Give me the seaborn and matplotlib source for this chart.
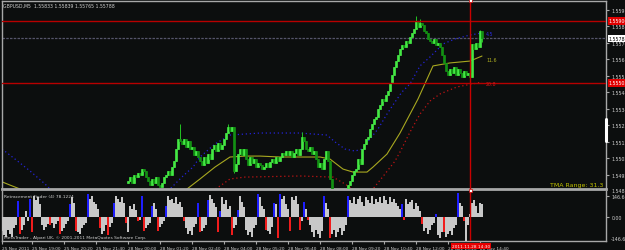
import numpy as np
import pandas as pd
import matplotlib
matplotlib.use("Agg")
import matplotlib.pyplot as plt
from matplotlib.patches import Rectangle
from matplotlib.transforms import blended_transform_factory
import seaborn as sns

# ------------------------------------------------------------------ data
header_text = "GBPUSD,M5  1.55833 1.55839 1.55765 1.55788"
first_candle_index = 63
first_open = 1.54866
closes = [
    1.54879, 1.54904, 1.54866, 1.54917, 1.54904, 1.54930, 1.54917, 1.54955, 1.54943, 1.54904,
    1.54879, 1.54853, 1.54892, 1.54866, 1.54904, 1.54853, 1.54840, 1.54866, 1.54904, 1.54917,
    1.54943, 1.54917, 1.54968, 1.55006, 1.55083, 1.55147, 1.55134, 1.55115, 1.55147, 1.55096,
    1.55134, 1.55083, 1.55096, 1.55045, 1.55070, 1.55032, 1.55006, 1.54981, 1.55032, 1.54994,
    1.55051, 1.55019, 1.55083, 1.55108, 1.55070, 1.55121, 1.55083, 1.55108, 1.55147, 1.55185,
    1.55223, 1.55198, 1.55223, 1.54943, 1.54987, 1.55051, 1.55083, 1.55045, 1.55083, 1.55019,
    1.54981, 1.55032, 1.54994, 1.55019, 1.54968, 1.54994, 1.54981, 1.54955, 1.54968, 1.54994,
    1.54968, 1.55000, 1.55019, 1.54994, 1.55032, 1.55006, 1.55032, 1.55057, 1.55045, 1.55070,
    1.55045, 1.55070, 1.55032, 1.55057, 1.55083, 1.55045, 1.55083, 1.55160, 1.55134, 1.55083,
    1.55070, 1.55096, 1.55051, 1.55070, 1.55019, 1.54968, 1.54994, 1.54955, 1.55019, 1.55070,
    1.55006, 1.54892, 1.54828, 1.54790, 1.54764, 1.54777, 1.54751, 1.54777, 1.54790, 1.54815,
    1.54853, 1.54879, 1.54917, 1.54943, 1.54955, 1.55019, 1.54987, 1.55083, 1.55115, 1.55147,
    1.55160, 1.55211, 1.55243, 1.55274, 1.55287, 1.55338, 1.55364, 1.55402, 1.55389, 1.55428,
    1.55453, 1.55504, 1.55555, 1.55606, 1.55644, 1.55683, 1.55721, 1.55747, 1.55734, 1.55772,
    1.55759, 1.55798, 1.55823, 1.55849, 1.55900, 1.55861, 1.55887, 1.55874, 1.55836, 1.55823,
    1.55785, 1.55772, 1.55759, 1.55785, 1.55747, 1.55759, 1.55734, 1.55683, 1.55632, 1.55581,
    1.55555, 1.55593, 1.55568, 1.55606, 1.55555, 1.55593, 1.55568, 1.55542, 1.55581, 1.55555,
    1.55568, 1.55542, 1.55753, 1.55721, 1.55759, 1.55734, 1.55833, 1.55788,
]
wick_highs = {89: 1.55243, 113: 1.55243, 150: 1.55191, 207: 1.55932, 209: 1.55913, 239: 1.55839}
wick_lows = {116: 1.54930, 240: 1.55765}

# TMA centre line (two visible stretches) and bands
tma_left_bar = [-1, 4, 9, 14]
tma_left_price = [1.54879, 1.54853, 1.54828, 1.54790]
tma_bar = [92.5, 99, 106.5, 114, 121.5, 129, 139, 149, 159, 164, 170.5, 175.5, 182.5,
           185.5, 192.5, 199, 208, 215.5, 224, 234, 240]
tma_price = [1.54828, 1.54892, 1.54968, 1.55032, 1.55038, 1.55038, 1.55032, 1.55032, 1.55032,
             1.55019, 1.54955, 1.54936, 1.54936, 1.54968, 1.55051, 1.55185, 1.55402, 1.55613,
             1.55632, 1.55644, 1.55676]
upper_left_bar = [0, 6.5, 14, 21.5, 25]
upper_left_price = [1.55083, 1.55019, 1.54943, 1.54860, 1.54815]
upper_bar = [83, 85.5, 90.5, 95.5, 99, 106.5, 114, 129, 149, 162.5, 166.5, 171.5, 176.5, 180,
             184, 188, 192.5, 196.5, 200, 204, 209, 214, 220.5, 226.5, 234, 240]
upper_price = [1.54815, 1.54847, 1.54911, 1.54968, 1.55032, 1.55115, 1.55172, 1.55185, 1.55185,
               1.55172, 1.55128, 1.55083, 1.55070, 1.55083, 1.55147, 1.55211, 1.55306, 1.55383,
               1.55447, 1.55498, 1.55613, 1.55670, 1.55753, 1.55785, 1.55810, 1.55823]
lower_bar = [105, 109, 114, 121.5, 149, 165.5, 171.5, 176.5, 181.5, 185.5, 191.5, 196.5, 199,
             204, 209, 214, 219, 227.5, 240]
lower_price = [1.54815, 1.54847, 1.54892, 1.54904, 1.54911, 1.54904, 1.54860, 1.54815, 1.54796,
               1.54828, 1.54924, 1.55006, 1.55064, 1.55191, 1.55306, 1.55389, 1.55434, 1.55479,
               1.55510]
band_labels = [("4.5", 1.55817, "#2a2ae0"), ("11.6", 1.55657, "#b0b020"), ("20.8", 1.55504, "#d01818")]
tma_range_text = "TMA Range: 31.3"

# Retracement Finder histogram (one value per bar)
hist_values = [
    -100, -130, -145, -90, -120, -140, -80, -60, 115, -120,
    -90, -60, 40, -30, 130, -110, 150, 120, 140, 90,
    -60, -90, -70, -50, -60, -40, -80, -50, -30, -120,
    -100, -80, -50, -30, 90, 140, 100, -100, -110, -120,
    -80, -60, -40, 165, 130, 150, 110, 90, 60, -80,
    -120, -100, -60, -130, -70, -40, 100, 150, 130, 110,
    140, 100, -40, -110, 80, 60, 90, 50, -30, -20,
    150, -100, -80, -60, -40, 80, 100, 60, -100, -70,
    -50, -30, 80, 150, 120, 130, 100, 140, 90, 110,
    70, -30, -80, -120, -100, -130, -70, -50, 100, -110,
    -100, -80, -60, 120, 160, 130, 100, 70, -110, 40,
    140, 90, 120, 60, 80, -130, -80, -60, 50, 150,
    110, 70, -90, -130, -110, -140, -80, -60, 165, 140,
    80, 60, -90, -100, -120, -70, 100, 90, -150, 165,
    130, 150, 90, 60, -100, 140, 120, 150, 90, -90,
    -30, 110, 60, -20, -60, -110, -140, -90, -120, -150,
    -100, 150, 100, 60, -150, -120, -90, -140, -110, -80,
    -130, -100, -60, 150, 120, 100, 140, 90, 130, 150,
    110, 80, 140, 120, 100, 150, 90, 130, 110, 140,
    100, 150, 120, 90, 140, 110, 130, 100, 80, 60,
    90, -20, 130, 90, 110, 120, 60, 100, 80, 40,
    -50, -100, -80, -120, -90, -60, -40, 20, -130, -150,
    -110, -110, -140, -120, -100, -130, -80, -60, 170, 100,
    80, -30, -170, -60, 20, 100, 120, 80, 30, 100,
    90,
]
hist_colors = ("ggggggggbr" "ggggbrgggg" "ggggrggggr" "ggggbggrgg" "gggbgggggr"
               "gggrggbggg" "ggrgggggrg" "brgggbggrg" "ggbggggggg" "grggggggbr"
               "gggbggggrb" "gggggrggbg" "ggggggggbg" "ggrgggbgrb" "ggggrggggr"
               "gbgrgggggg" "gbggrggggg" "gggbgggggg" "gggggggggg" "gggggggggg"
               "brgggggggg" "rggggggbgg" "grggggggbg" "grgggggggg" "g")
hist_title = "Retracement Finder (4) 78.1224"
hist_ticks = [146.666, 0.0]
hist_tick_labels = ["146.666", "0.00"]
hist_bottom_label = "-146.666"
copyright_text = "MetaTrader - Alpari UK, \u00a9 2001-2011 MetaQuotes Software Corp."

price_ticks = [1.55970, 1.55865, 1.55760, 1.55655, 1.55550, 1.55445, 1.55340,
               1.55235, 1.55130, 1.55025, 1.54920]
price_bottom_label = "1.54820"
level_lines = [1.55900, 1.55505]
current_price = 1.55788
time_labels = ["25 Nov 2011", "25 Nov 19:00", "25 Nov 20:20", "25 Nov 21:40", "28 Nov 00:00",
               "28 Nov 01:20", "28 Nov 02:40", "28 Nov 04:00", "28 Nov 05:20", "28 Nov 06:40",
               "28 Nov 08:00", "28 Nov 09:20", "28 Nov 10:40", "28 Nov 12:00", "28 Nov 13:20",
               "28 Nov 14:40"]
bars_per_label = 16
cursor_bar = 234
cursor_label = "2011.11.28 14:30"

# ------------------------------------------------------------------ style
BG = "#0c0e0e"
FRAME = "#a8a8a8"
TXT = "#cfcfcf"
FS = 3.4
FS_T = 3.05
sns.set_theme(style="dark", rc={"axes.facecolor": BG, "figure.facecolor": BG,
                                "axes.grid": False, "axes.edgecolor": FRAME})
plt.rcParams["font.family"] = ["DejaVu Sans"]

W, H = 625, 251
fig = plt.figure(figsize=(W / 100, H / 100), dpi=100)
fig.patch.set_facecolor(BG)

def fxy(px, py):
    return px / W, 1 - py / H

ax = fig.add_axes([2 / W, 1 - 190 / H, 604 / W, 188 / H])
axs = fig.add_axes([2 / W, 1 - 242 / H, 604 / W, 50 / H])
for a in (ax, axs):
    a.set_facecolor(BG)

# ------------------------------------------------------------------ candles
n = len(closes)
bars = np.arange(first_candle_index, first_candle_index + n)
opens = [first_open] + closes[:-1]
highs = [max(o, c) for o, c in zip(opens, closes)]
lows = [min(o, c) for o, c in zip(opens, closes)]
for k, b in enumerate(bars):
    if b in wick_highs:
        highs[k] = max(highs[k], wick_highs[b])
    if b in wick_lows:
        lows[k] = min(lows[k], wick_lows[b])
candles = pd.DataFrame({"bar": bars, "open": opens, "close": closes, "high": highs, "low": lows})
bull = candles["close"] >= candles["open"]
ccol = np.where(bull, "#44e844", "#139013")
ax.vlines(candles["bar"], candles["low"], candles["high"], color="#22c422", lw=0.7, zorder=3)
ax.bar(candles["bar"], (candles["close"] - candles["open"]).abs(),
       bottom=candles[["open", "close"]].min(axis=1), width=0.8, color=ccol,
       edgecolor=ccol, linewidth=0.5, zorder=4)

# ------------------------------------------------------------------ TMA + bands
dot = (0, (1, 2.2))
sns.lineplot(x=tma_left_bar, y=tma_left_price, ax=ax, color="#a8a820", lw=0.8,
             sort=False, estimator=None, zorder=2)
sns.lineplot(x=tma_bar, y=tma_price, ax=ax, color="#a8a820", lw=0.8,
             sort=False, estimator=None, zorder=2)
sns.lineplot(x=upper_left_bar, y=upper_left_price, ax=ax, color="#2424d8", lw=0.9,
             linestyle=dot, sort=False, estimator=None, zorder=2)
sns.lineplot(x=upper_bar, y=upper_price, ax=ax, color="#2424d8", lw=0.9,
             linestyle=dot, sort=False, estimator=None, zorder=2)
sns.lineplot(x=lower_bar, y=lower_price, ax=ax, color="#c01414", lw=0.9,
             linestyle=dot, sort=False, estimator=None, zorder=2)
for txt, p, col in band_labels:
    ax.text(242, p, txt, color=col, fontsize=FS, va="center", ha="left", zorder=6)

# level lines, current price, cursor
for lv in level_lines:
    ax.axhline(lv, color="#b80000", lw=1.0, zorder=5)
ax.axhline(current_price, color="#55556a", lw=0.9, ls=(0, (2, 1)), zorder=1)
ax.axvline(cursor_bar, color="#c80000", lw=1.0, zorder=7)
axs.axvline(cursor_bar, color="#c80000", lw=1.0, zorder=7)

ax.set_xlim(0, 302)
ax.set_ylim(1.54828, 1.56027)
ax.yaxis.tick_right()
ax.set_yticks(price_ticks)
ax.set_yticklabels([f"{t:.5f}" for t in price_ticks])
ax.tick_params(axis="y", colors=FRAME, labelcolor=TXT, labelsize=FS, length=2.5,
               width=0.8, pad=1.5, right=True, left=False)
ax.set_xticks([])
ax.set_xlabel("")
ax.set_ylabel("")

trans = blended_transform_factory(ax.transAxes, ax.transData)
for lv in level_lines:
    ax.text(1.0045, lv, f"{lv:.5f}", transform=trans, ha="left", va="center",
            fontsize=FS, color="white", clip_on=False, zorder=10,
            bbox=dict(boxstyle="square,pad=0.25", fc="#e00000", ec="none"))
ax.text(1.0045, current_price, f"{current_price:.5f}", transform=trans, ha="left",
        va="center", fontsize=FS, color="black", clip_on=False, zorder=10,
        bbox=dict(boxstyle="square,pad=0.25", fc="white", ec="none"))
ax.plot([1.0, 1.0], [(190 - 142) / 188, (190 - 120) / 188], transform=ax.transAxes,
        color="white", lw=2.2, clip_on=False, zorder=9)
ax.text(0.995, 0.025, tma_range_text, transform=ax.transAxes, ha="right", va="center",
        fontsize=4.5, color="#c4c400", zorder=8)
ax.text(0.002, 0.988, header_text, transform=ax.transAxes, ha="left", va="top",
        fontsize=3.3, color=TXT, zorder=8)

for side, sp in ax.spines.items():
    sp.set_color(FRAME)
    sp.set_linewidth(1.0)
ax.spines["bottom"].set_linewidth(2.0)

# ------------------------------------------------------------------ histogram
hist = pd.DataFrame({"bar": np.arange(len(hist_values)), "value": hist_values,
                     "kind": list(hist_colors[:len(hist_values)])})
sns.barplot(data=hist, x="bar", y="value", hue="kind", native_scale=True, dodge=False,
            palette={"g": "#c8c8c8", "b": "#1e1eff", "r": "#f01c1c"}, saturation=1,
            width=0.6, errorbar=None, legend=False, ax=axs, linewidth=0, zorder=3)
axs.set_xlim(0, 302)
axs.set_ylim(-172, 186)
axs.yaxis.tick_right()
axs.set_yticks(hist_ticks)
axs.set_yticklabels(hist_tick_labels)
axs.tick_params(axis="y", colors=FRAME, labelcolor=TXT, labelsize=FS, length=2.5,
                width=0.8, pad=1.5, right=True, left=False)
label_pos = [0] + [bars_per_label * k - 1 for k in range(1, len(time_labels))]
axs.set_xticks(label_pos)
axs.set_xticklabels(time_labels, ha="left")
axs.tick_params(axis="x", colors=FRAME, labelcolor=TXT, labelsize=FS_T, length=2.5,
                width=0.8, pad=1.0, bottom=True)
axs.set_xlabel("")
axs.set_ylabel("")
axs.text(0.004, 0.93, hist_title, transform=axs.transAxes, ha="left", va="top",
         fontsize=3.2, color=TXT, zorder=8)
axs.text(0.004, 0.08, copyright_text, transform=axs.transAxes, ha="left", va="center",
         fontsize=3.2, color=TXT, zorder=8)
for side, sp in axs.spines.items():
    sp.set_color(FRAME)
    sp.set_linewidth(1.0)
axs.spines["top"].set_visible(False)

fig.text(*fxy(611, 192), price_bottom_label, fontsize=FS, color=TXT, va="center", ha="left")
fig.text(*fxy(611, 239.5), hist_bottom_label, fontsize=FS, color=TXT, va="center", ha="left")

# cursor time box and markers
fig.text(*fxy(471, 247), cursor_label, fontsize=FS_T, color="white", ha="center", va="center",
         zorder=20, bbox=dict(boxstyle="square,pad=0.3", fc="#e80000", ec="none"))
for py in (1.5, 191):
    cx, cy = fxy(468.5, py + 1.5)
    fig.add_artist(Rectangle((cx, cy), 3 / W, 3 / H, transform=fig.transFigure,
                             fc="white", ec="#c80000", lw=0.5, zorder=20))

fig.savefig("out.png", dpi=100, facecolor=BG)
